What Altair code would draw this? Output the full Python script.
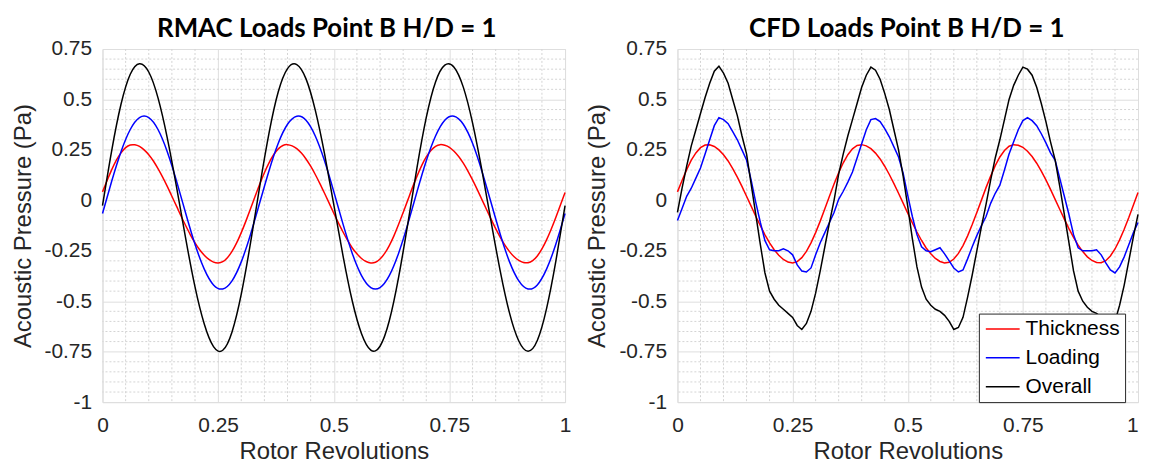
import altair as alt
import pandas as pd

# ---------------- data ----------------
x_fine = [round(i * 0.01, 2) for i in range(101)]
x_coarse = [round(i * 0.02, 2) for i in range(51)]

# Thickness noise (identical in both panels), x step 0.01
thickness = [
    0.042, 0.098, 0.152, 0.199, 0.235, 0.261, 0.274, 0.275, 0.267, 0.250,
    0.226, 0.195, 0.157, 0.115, 0.069, 0.020, -0.029, -0.079, -0.126, -0.171,
    -0.211, -0.245, -0.272, -0.293, -0.306, -0.310, -0.304, -0.284, -0.253, -0.211,
    -0.160, -0.103, -0.042, 0.020, 0.081, 0.137, 0.186, 0.226, 0.255, 0.272,
    0.276, 0.270, 0.256, 0.234, 0.205, 0.169, 0.128, 0.083, 0.035, -0.014,
    -0.064, -0.112, -0.157, -0.199, -0.236, -0.265, -0.288, -0.303, -0.310, -0.307,
    -0.291, -0.263, -0.224, -0.176, -0.120, -0.060, 0.001, 0.063, 0.120, 0.172,
    0.215, 0.247, 0.268, 0.276, 0.273, 0.263, 0.243, 0.217, 0.184, 0.145,
    0.101, 0.054, 0.005, -0.044, -0.093, -0.140, -0.183, -0.222, -0.254, -0.280,
    -0.298, -0.308, -0.309, -0.299, -0.276, -0.241, -0.196, -0.143, -0.085, -0.023,
    0.039,
]

# RMAC loading noise, x step 0.02
rmac_loading = [
    -0.065, 0.096, 0.241, 0.351, 0.410, 0.410, 0.351, 0.241, 0.096, -0.065,
    -0.218, -0.341, -0.419, -0.439, -0.399, -0.305, -0.169, -0.011, 0.147, 0.283,
    0.377, 0.417, 0.397, 0.319, 0.196, 0.043, -0.118, -0.263, -0.373, -0.432,
    -0.432, -0.373, -0.263, -0.118, 0.043, 0.196, 0.319, 0.397, 0.417, 0.377,
    0.283, 0.147, -0.011, -0.169, -0.305, -0.399, -0.439, -0.419, -0.341, -0.218,
    -0.065,
]

# RMAC overall noise, x step 0.02
rmac_overall = [
    -0.026, 0.248, 0.476, 0.625, 0.677, 0.636, 0.508, 0.310, 0.067, -0.191,
    -0.429, -0.613, -0.725, -0.743, -0.652, -0.465, -0.211, 0.070, 0.333, 0.538,
    0.653, 0.673, 0.602, 0.447, 0.231, -0.021, -0.275, -0.499, -0.661, -0.742,
    -0.723, -0.597, -0.383, -0.117, 0.163, 0.411, 0.587, 0.670, 0.660, 0.561,
    0.384, 0.152, -0.104, -0.352, -0.559, -0.697, -0.748, -0.695, -0.537, -0.303,
    -0.026,
]

# CFD loading noise, x step 0.01
cfd_loading = [
    -0.10, -0.04, 0.02, 0.06, 0.11, 0.16, 0.23, 0.30, 0.37, 0.41,
    0.40, 0.38, 0.34, 0.30, 0.25, 0.20, 0.10, -0.01, -0.11, -0.20,
    -0.245, -0.25, -0.25, -0.24, -0.25, -0.27, -0.32, -0.35, -0.355, -0.335,
    -0.27, -0.21, -0.16, -0.11, -0.06, 0.005, 0.045, 0.09, 0.14, 0.21,
    0.28, 0.35, 0.40, 0.405, 0.39, 0.355, 0.315, 0.265, 0.215, 0.135,
    0.025, -0.08, -0.17, -0.23, -0.25, -0.255, -0.245, -0.235, -0.265, -0.30,
    -0.335, -0.355, -0.345, -0.29, -0.23, -0.175, -0.125, -0.08, -0.015, 0.035,
    0.075, 0.15, 0.23, 0.29, 0.35, 0.395, 0.41, 0.395, 0.37, 0.33,
    0.285, 0.235, 0.20, 0.11, 0.02, -0.07, -0.17, -0.235, -0.25, -0.25,
    -0.25, -0.245, -0.27, -0.31, -0.345, -0.36, -0.33, -0.28, -0.22, -0.16,
    -0.11,
]

# CFD overall noise, x step 0.01
cfd_overall = [
    -0.06, 0.06, 0.17, 0.27, 0.35, 0.43, 0.51, 0.58, 0.64, 0.665,
    0.63, 0.58, 0.50, 0.42, 0.32, 0.23, 0.08, -0.07, -0.22, -0.36,
    -0.45, -0.49, -0.52, -0.54, -0.56, -0.58, -0.62, -0.64, -0.61, -0.55,
    -0.46, -0.35, -0.23, -0.11, 0.00, 0.13, 0.23, 0.32, 0.40, 0.48,
    0.56, 0.62, 0.66, 0.645, 0.60, 0.53, 0.45, 0.35, 0.25, 0.12,
    -0.03, -0.19, -0.33, -0.43, -0.49, -0.52, -0.54, -0.55, -0.57, -0.60,
    -0.64, -0.63, -0.58, -0.48, -0.37, -0.25, -0.13, -0.02, 0.10, 0.21,
    0.30, 0.40, 0.50, 0.57, 0.62, 0.66, 0.65, 0.62, 0.56, 0.48,
    0.39, 0.29, 0.20, 0.07, -0.07, -0.21, -0.35, -0.45, -0.50, -0.53,
    -0.55, -0.56, -0.58, -0.61, -0.62, -0.60, -0.52, -0.42, -0.30, -0.18,
    -0.07,
]

series_names = ["Thickness", "Loading", "Overall"]
series_colors = ["#ff0000", "#0000ff", "#000000"]
titles = ["RMAC Loads Point B H/D = 1", "CFD Loads Point B H/D = 1"]
x_ticks = [0, 0.25, 0.5, 0.75, 1]
y_ticks = [-1, -0.75, -0.5, -0.25, 0, 0.25, 0.5, 0.75]
x_minor = [round(i * 0.05, 2) for i in range(1, 20) if i % 5 != 0]
y_minor = [round(-1 + i * 0.05, 2) for i in range(1, 35) if i % 5 != 0]

# ---------------- styling ----------------
TICK_FONT = "Liberation Sans"
AXIS_COLOR = "#262626"
W_LEFT, W_RIGHT, H = 465, 463, 355


def long_df(parts):
    rows = []
    for name, xs, ys in parts:
        for xv, yv in zip(xs, ys):
            rows.append({"x": xv, "y": yv, "series": name})
    return pd.DataFrame(rows)


df_rmac = long_df([
    ("Thickness", x_fine, thickness),
    ("Loading", x_coarse, rmac_loading),
    ("Overall", x_coarse, rmac_overall),
])
df_cfd = long_df([
    ("Thickness", x_fine, thickness),
    ("Loading", x_fine, cfd_loading),
    ("Overall", x_fine, cfd_overall),
])

x_scale = alt.Scale(domain=[0, 1], nice=False, zero=False)
y_scale = alt.Scale(domain=[-1, 0.75], nice=False, zero=False)


def x_axis(last_right):
    align = (
        {"condition": {"test": "datum.value == 1", "value": "right"}, "value": "center"}
        if last_right else "center"
    )
    return alt.Axis(
        values=x_ticks, title="Rotor Revolutions", labelExpr="datum.value + ''",
        grid=True, gridColor="#dedede", gridWidth=1, ticks=False, domain=False,
        labelFont=TICK_FONT, labelFontSize=21, labelColor=AXIS_COLOR, labelPadding=13,
        labelAlign=align,
        titleFont=TICK_FONT, titleFontSize=24, titleFontWeight="normal",
        titleColor=AXIS_COLOR, titlePadding=4, labelFlush=False,
    )


def y_axis():
    return alt.Axis(
        values=y_ticks, title="Acoustic Pressure (Pa)", labelExpr="datum.value + ''",
        grid=True, gridColor="#dedede", gridWidth=1, ticks=False, domain=False,
        labelFont=TICK_FONT, labelFontSize=21, labelColor=AXIS_COLOR, labelPadding=11,
        titleFont=TICK_FONT, titleFontSize=24, titleFontWeight="normal",
        titleColor=AXIS_COLOR, titlePadding=9,
    )


def panel(df, title, width, interp, legend, title_dx, last_right):
    xa = x_axis(last_right)
    base_minor_x = alt.Chart(pd.DataFrame({"v": x_minor})).mark_rule(
        color="#d4d4d4", strokeDash=[2, 2], strokeWidth=1
    ).encode(x=alt.X("v:Q", scale=x_scale, axis=xa))
    base_minor_y = alt.Chart(pd.DataFrame({"v": y_minor})).mark_rule(
        color="#d4d4d4", strokeDash=[2, 2], strokeWidth=1
    ).encode(y=alt.Y("v:Q", scale=y_scale, axis=y_axis()))
    lines = alt.Chart(df).mark_line(strokeWidth=1.5, interpolate=interp).encode(
        x=alt.X("x:Q", scale=x_scale, axis=xa),
        y=alt.Y("y:Q", scale=y_scale, axis=y_axis()),
        color=alt.Color(
            "series:N",
            scale=alt.Scale(domain=series_names, range=series_colors),
            sort=series_names,
            legend=legend,
        ),
        detail="series:N",
    )
    return alt.layer(base_minor_x, base_minor_y, lines).properties(
        width=width, height=H,
        title=alt.TitleParams(
            text=title, font="Lato", fontSize=26, fontWeight="bold", color="#000000",
            anchor="middle", baseline="alphabetic", offset=-25, dx=title_dx,
        ),
    )


legend = alt.Legend(
    title=None, orient="none", legendX=303, legendY=266,
    symbolType="M-1,0H3", symbolSize=289, symbolStrokeWidth=1.5,
    labelFont=TICK_FONT, labelFontSize=21, labelColor="#000000", labelOffset=21,
    strokeColor="#262626", fillColor="#ffffff", padding=5, rowPadding=7,
    cornerRadius=0,
)

left = panel(df_rmac, titles[0], W_LEFT, "natural", None, -7, False)
right = panel(df_cfd, titles[1], W_RIGHT, "linear", legend, -1, True)

chart = alt.hconcat(left, right, spacing=13).resolve_scale(
    color="independent"
).resolve_legend(color="independent").properties(
    padding={"left": 2, "right": 0, "top": 6, "bottom": 0}
).configure_view(stroke="#404040", strokeWidth=1).configure(background="#ffffff")

chart.save("out.html", embed_options={"renderer": "svg", "actions": False})
